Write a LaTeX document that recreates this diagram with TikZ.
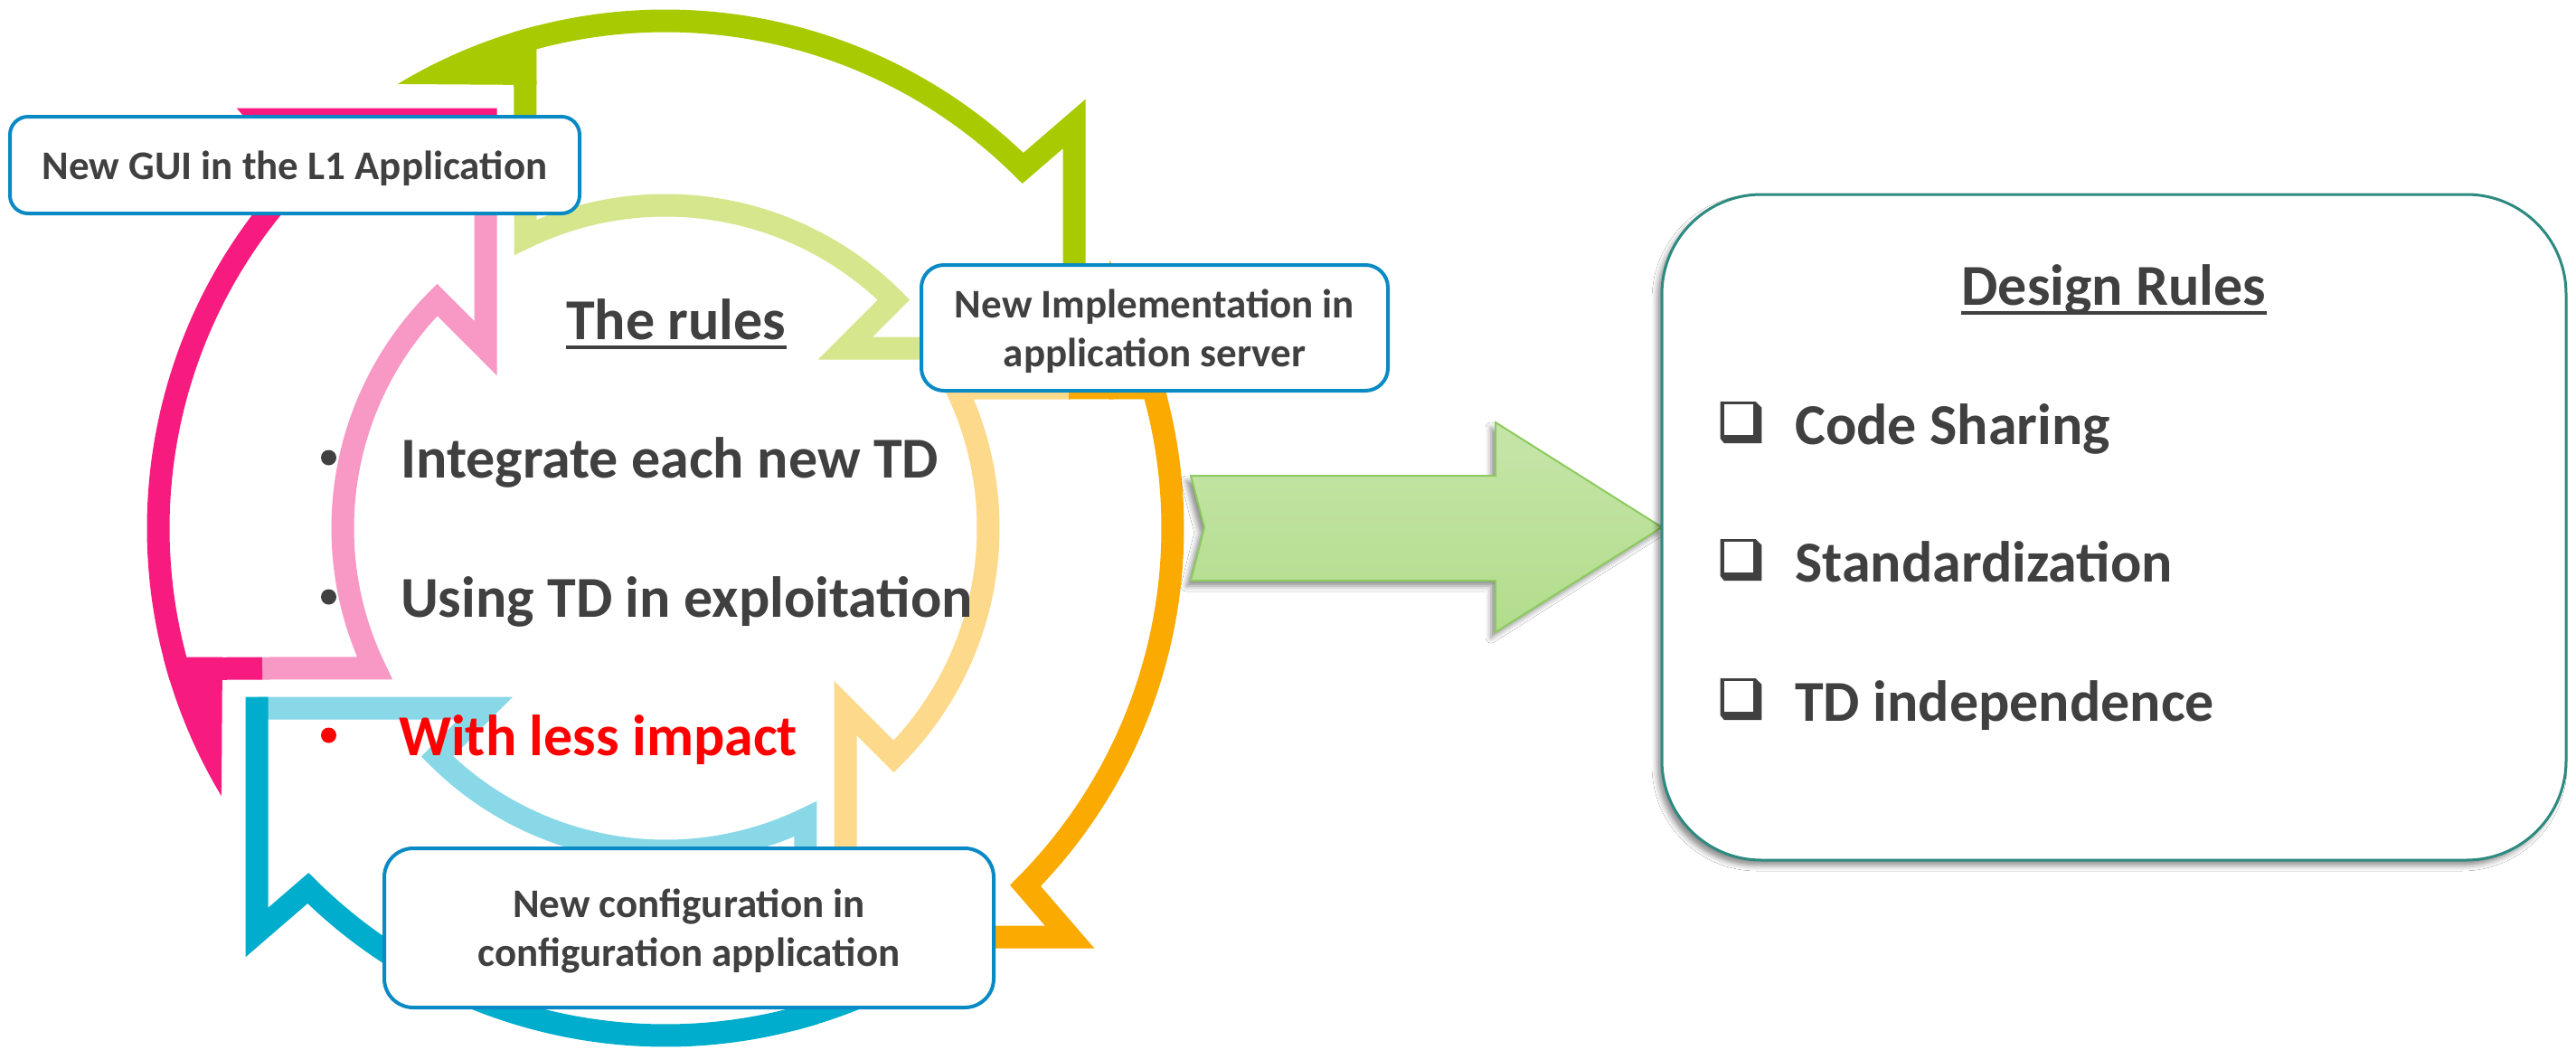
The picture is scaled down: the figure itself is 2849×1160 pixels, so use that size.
\documentclass[tikz,border=0pt]{standalone}
\usepackage{fontspec}
\setmainfont{Carlito}
\usetikzlibrary{shadows.blur,calc}
\definecolor{gdark}{HTML}{A8CA00}
\definecolor{glight}{HTML}{D5E68C}
\definecolor{odark}{HTML}{FAAA00}
\definecolor{olight}{HTML}{FDD98C}
\definecolor{bdark}{HTML}{00ADCC}
\definecolor{blight}{HTML}{88D8E8}
\definecolor{pdark}{HTML}{F71B80}
\definecolor{plight}{HTML}{F898C4}
\definecolor{boxblue}{HTML}{0A8AC4}
\definecolor{tealb}{HTML}{2D8A80}
\definecolor{txtgray}{HTML}{404040}
\definecolor{arrtop}{HTML}{C6E5A9}
\definecolor{arrbot}{HTML}{B2DD8C}
\definecolor{arrline}{HTML}{8CCB5E}
\definecolor{rulered}{HTML}{FF0000}

% one hollow cycle arrow, drawn around the common centre, rotated by #1
\newcommand\cycArrow[3]{%
  \begin{scope}[shift={(736,584)}, rotate=#1]
    \draw[line width=25pt, #3, line join=miter] (452,-199) -- (199,-199) -- (-45:357)
      arc[start angle=-45, end angle=-115.7, radius=357] -- (-155,-446);
    \draw[line width=25pt, #2, line join=miter] (-155,-446) -- (-106.1:561)
      arc[start angle=-106.1, end angle=-45.2, radius=561] -- (452,-447) -- (452,-186.5);
    \fill[#2] (-142.5,-490) -- (-121.1:573.5)
      arc[start angle=-121.1, end angle=-104.4, radius=573.5] -- cycle;
  \end{scope}}

\tikzset{
  bigtxt/.style={font=\bfseries\fontsize{64}{76}\selectfont, text=txtgray, inner sep=0pt},
  boxtxt/.style={font=\bfseries\fontsize{45}{54}\selectfont, text=txtgray, align=center, text depth=0pt},
  stepbox/.style={draw=boxblue, line width=4pt, fill=white, inner sep=0pt},
  bulletdot/.style={circle, fill=txtgray, minimum size=17pt, inner sep=0pt},
  underl/.style={line width=4pt, draw=txtgray},
  chkbox/.pic={
    \fill[txtgray] (0,-47) -- (39,-47) -- (45.6,-40.3) -- (45.6,-1) -- (4,-1) -- (0,-6) -- cycle;
    \fill[white] (4,-44.3) rectangle (36.6,-10.3);
  },
  softshadow/.style={blur shadow={shadow xshift=-5pt, shadow yshift=-6pt, shadow blur radius=6pt, shadow opacity=45}}
}

\begin{document}
\begin{tikzpicture}[x=1pt, y=-1pt]
\useasboundingbox (0,0) rectangle (2849,1160);
\fill[white] (0,0) rectangle (2849,1160);

% cycle of arrows
\cycArrow{0}{gdark}{glight}
\cycArrow{-90}{odark}{olight}
\cycArrow{180}{bdark}{blight}
\cycArrow{90}{pdark}{plight}

% the rules
\node[bigtxt, anchor=base west] (rt) at (626,375) {The rules};
\draw[underl] ([yshift=-9pt]rt.base west) -- ([yshift=-9pt]rt.base east);
\node[bulletdot] (b1) at (363.5,506) {};
\node[bigtxt, anchor=base west] (r1) at (443,528) {Integrate each new TD};
\node[bulletdot] (b2) at (363.5,660) {};
\node[bigtxt, anchor=base west] (r2) at (443,682) {Using TD in exploitation};
\node[bulletdot, fill=rulered] (b3) at (363.5,813) {};
\node[bigtxt, anchor=base west, text=rulered] (r3) at (441,835) {With less impact};

% step boxes
\node[stepbox, boxtxt, rounded corners=20pt, minimum width=630pt, minimum height=107pt] (gui) at (326,182.5) {New GUI in the L1 Application};
\node[stepbox, boxtxt, rounded corners=25pt, minimum width=516pt, minimum height=139pt] (impl) at (1277,362.5) {New Implementation in\\application server};
\node[stepbox, boxtxt, rounded corners=32pt, minimum width=674pt, minimum height=176pt] (conf) at (762,1026) {New configuration in\\configuration application};

% big arrow
\coordinate (atail) at (1332,583);
\coordinate (atip) at (1838,583);
\path[softshadow, draw=arrline, line width=2pt, top color=arrtop, bottom color=arrbot]
  (1317,526) -- (1654,526) -- (1654,467) -- (atip) -- (1654,699) -- (1654,642) -- (1317,642) -- (atail) -- cycle;

% design rules box
\node[softshadow, draw=tealb, line width=3pt, fill=white, rounded corners=110pt, minimum width=1000pt, minimum height=736pt] (design) at (2338,583) {};
\node[bigtxt, anchor=base] (dr) at (2338,337) {Design Rules};
\draw[underl] ([yshift=-9pt]dr.base west) -- ([yshift=-9pt]dr.base east);
\pic at (1902.7,491) {chkbox};
\node[bigtxt, anchor=base west] (d1) at (1985,491) {Code Sharing};
\pic at (1902.7,643) {chkbox};
\node[bigtxt, anchor=base west] (d2) at (1985,643) {Standardization};
\pic at (1902.7,797) {chkbox};
\node[bigtxt, anchor=base west] (d3) at (1985,797) {TD independence};
\end{tikzpicture}
\end{document}
